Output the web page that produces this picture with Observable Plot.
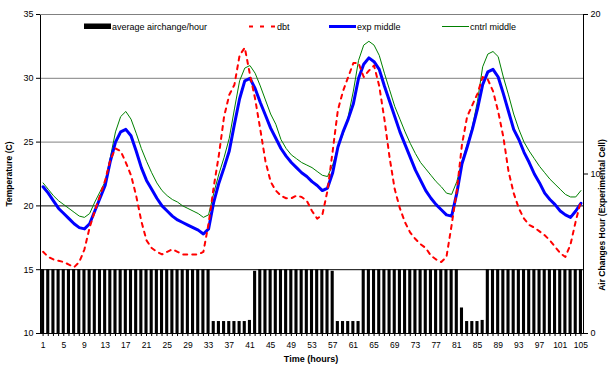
<!DOCTYPE html>
<html><head><meta charset="utf-8">
<script src="https://cdn.jsdelivr.net/npm/d3@7"></script>
<script src="https://cdn.jsdelivr.net/npm/@observablehq/plot@0.6"></script>
<style>
body{margin:0;background:#fff;font-family:"Liberation Sans",Arial,sans-serif}
#chart{position:relative;width:611px;height:366px}
</style>
</head><body><div id="chart"></div>
<script>
const hours = d3.range(1, 106);
const airchange = [
 4,4,4,4,4,4,4,4,4,4, 4,4,4,4,4,4,4,4,4,4, 4,4,4,4,4,4,4,4,4,4, 4,4,4,
 0.75,0.75,0.75,0.75,0.75,0.75,0.75,0.82,
 3.9,
 4,4,4,4,4,4,4,4,4,4,4,4,4,4,
 3.9,
 0.75,0.75,0.75,0.75,0.75,
 4,4,4,4,4,4,4,4,4,4,4,4,4,4,4,4,4,4,4,
 1.6,
 0.75,0.75,0.75,0.82,
 4,4,4,4,4,4,4,4,4,4,4,4,4,4,4,4,4,4,4
];
const dbt = [
 16.4,16.0,15.8,15.7,15.6,15.4,15.2,15.6,16.6,18.3,
 19.6,20.8,22.0,23.6,24.5,24.3,23.4,22.4,20.8,18.8,
 17.3,16.7,16.4,16.2,16.4,16.6,16.4,16.2,16.2,16.2,
 16.2,16.4,18.6,21.5,24.0,27.0,28.7,29.5,31.8,32.4,
 30.3,28.4,26.0,23.5,21.9,21.2,20.8,20.6,20.6,20.8,
 20.7,20.4,19.6,19.0,19.3,21.2,24.3,27.5,29.0,30.1,
 31.2,31.2,30.1,30.6,31.0,29.4,26.8,23.8,21.3,19.8,
 18.7,17.9,17.4,17.0,16.7,16.1,15.8,15.6,16.0,18.5,
 21.2,24.8,27.0,27.9,28.8,30.1,29.9,29.0,27.4,25.4,
 22.7,21.0,19.8,19.0,18.5,18.3,18.0,17.7,17.3,16.8,
 16.3,16.0,17.0,18.8,20.4
];
const expMiddle = [
 21.5,21.0,20.4,19.8,19.4,19.0,18.6,18.3,18.2,18.6,
 19.6,20.6,21.6,23.5,25.0,25.8,26.0,25.5,24.3,23.0,
 22.0,21.3,20.6,20.0,19.6,19.2,18.9,18.7,18.5,18.3,
 18.1,17.8,18.2,20.3,21.8,23.0,24.3,26.4,28.4,29.8,
 30.0,29.2,28.1,27.1,26.1,25.3,24.5,23.9,23.4,23.0,
 22.6,22.3,21.9,21.6,21.2,21.4,22.6,24.6,25.8,26.8,
 28.0,30.0,31.1,31.6,31.3,30.7,29.4,28.2,27.0,25.8,
 24.8,23.8,22.8,22.0,21.2,20.6,20.1,19.7,19.3,19.2,
 21.0,23.3,24.6,26.0,27.6,29.5,30.5,30.7,30.1,28.8,
 27.4,26.0,25.2,24.2,23.4,22.5,21.8,21.0,20.5,20.1,
 19.6,19.3,19.1,19.6,20.2
];
const cntrlMiddle = [
 21.8,21.3,20.8,20.4,20.1,19.8,19.5,19.2,19.1,19.4,
 20.3,21.1,21.9,23.8,25.8,27.0,27.4,26.8,25.7,24.5,
 23.5,22.6,21.8,21.2,20.8,20.5,20.3,20.0,19.8,19.6,
 19.4,19.1,19.3,21.0,22.5,23.8,25.3,27.6,29.8,30.8,
 31.0,30.4,29.4,28.3,27.2,26.4,25.2,24.5,24.0,23.7,
 23.4,23.2,23.0,22.7,22.4,22.3,23.2,24.6,25.6,27.0,
 29.0,31.4,32.6,32.9,32.6,31.8,30.4,29.1,27.8,26.8,
 25.8,24.9,24.1,23.4,22.9,22.4,21.9,21.5,21.0,20.9,
 21.9,23.5,24.8,26.2,28.2,30.9,31.9,32.1,31.7,30.1,
 28.7,27.2,26.0,25.0,24.3,23.7,23.1,22.6,22.1,21.7,
 21.3,20.9,20.7,20.7,21.2
];
const tempTicks = [10, 15, 20, 25, 30, 35];
const airTicks = [0, 10, 20];
const seriesNames = ["average airchange/hour", "dbt", "exp middle", "cntrl middle"];
const seriesColors = ["#000000", "#ff0000", "#0000ff", "#008000"];

// secondary axis (0..20) mapped onto the temperature range (10..35)
const airToT = a => 10 + a * 25 / 20;
const tToAir = t => Math.round((t - 10) * 20 / 25);

const rows = hours.map((h, i) => ({h, air: airchange[i], dbt: dbt[i], exp: expMiddle[i], cntrl: cntrlMiddle[i]}));
const FONT = '"Liberation Sans", Arial, sans-serif';

const chart = Plot.plot({
  width: 611, height: 366,
  marginLeft: 40, marginRight: 28, marginTop: 14, marginBottom: 33,
  style: {fontFamily: FONT, fontSize: "9px", background: "#fff", color: "#000"},
  x: {type: "band", domain: hours, paddingInner: 0.4, paddingOuter: 0.2, round: false},
  y: {domain: [10, 35]},
  marks: [
    Plot.barY(rows, {x: "h", y1: 10, y2: d => airToT(d.air), fill: seriesColors[0]}),
    Plot.ruleY([25, 30], {stroke: "#808080"}),
    Plot.ruleY([15, 20], {stroke: "#000"}),
    Plot.frame({stroke: "#000"}),
    Plot.ruleY([35], {stroke: "#808080"}),
    Plot.line(rows, {x: "h", y: "cntrl", stroke: seriesColors[3], strokeWidth: 1}),
    Plot.line(rows, {x: "h", y: "exp", stroke: seriesColors[2], strokeWidth: 3}),
    Plot.line(rows, {x: "h", y: "dbt", stroke: seriesColors[1], strokeWidth: 2, strokeDasharray: "4,5"}),
    Plot.axisY({ticks: tempTicks, tickSize: 4, tickPadding: 3, label: null, fontSize: 9}),
    Plot.axisY({anchor: "right", ticks: airTicks.map(airToT), tickFormat: tToAir, tickSize: 4, tickPadding: 3, label: null, fontSize: 9}),
    Plot.axisX({ticks: hours, tickFormat: h => ((h - 1) % 4 === 0 ? String(h) : ""), tickSize: 3, tickPadding: 5, label: null, fontSize: 8.5})
  ]
});
document.getElementById("chart").appendChild(chart);

const svg = d3.select(chart);
// axis titles
svg.append("text").attr("transform", "translate(12,174) rotate(-90)")
  .attr("text-anchor", "middle").attr("font-family", FONT).attr("font-size", 8.5).attr("font-weight", "bold")
  .text("Temperature (C)");
svg.append("text").attr("transform", "translate(605,215) rotate(-90)")
  .attr("text-anchor", "middle").attr("font-family", FONT).attr("font-size", 8.5).attr("font-weight", "bold")
  .text("Air Changes Hour (Experimental Cell)");
svg.append("text").attr("x", 311).attr("y", 362)
  .attr("text-anchor", "middle").attr("font-family", FONT).attr("font-size", 9).attr("font-weight", "bold")
  .text("Time (hours)");

// legend
const lg = svg.append("g").attr("font-family", FONT).attr("font-size", 9).attr("text-anchor", "start");
const lx = [84, 249, 329, 442];
lg.append("rect").attr("x", lx[0]).attr("y", 23.5).attr("width", 27).attr("height", 5.5).attr("fill", seriesColors[0]);
lg.append("line").attr("x1", lx[1]).attr("x2", lx[1] + 27).attr("y1", 26.5).attr("y2", 26.5)
  .attr("stroke", seriesColors[1]).attr("stroke-width", 2).attr("stroke-dasharray", "4,7");
lg.append("line").attr("x1", lx[2]).attr("x2", lx[2] + 27).attr("y1", 26.5).attr("y2", 26.5)
  .attr("stroke", seriesColors[2]).attr("stroke-width", 3);
lg.append("line").attr("x1", lx[3]).attr("x2", lx[3] + 27).attr("y1", 26.5).attr("y2", 26.5)
  .attr("stroke", seriesColors[3]).attr("stroke-width", 1);
seriesNames.forEach((n, i) => {
  lg.append("text").attr("x", lx[i] + 28).attr("y", 30).attr("fill", "#000").attr("text-anchor", "start").text(n);
});
</script>
</body></html>
